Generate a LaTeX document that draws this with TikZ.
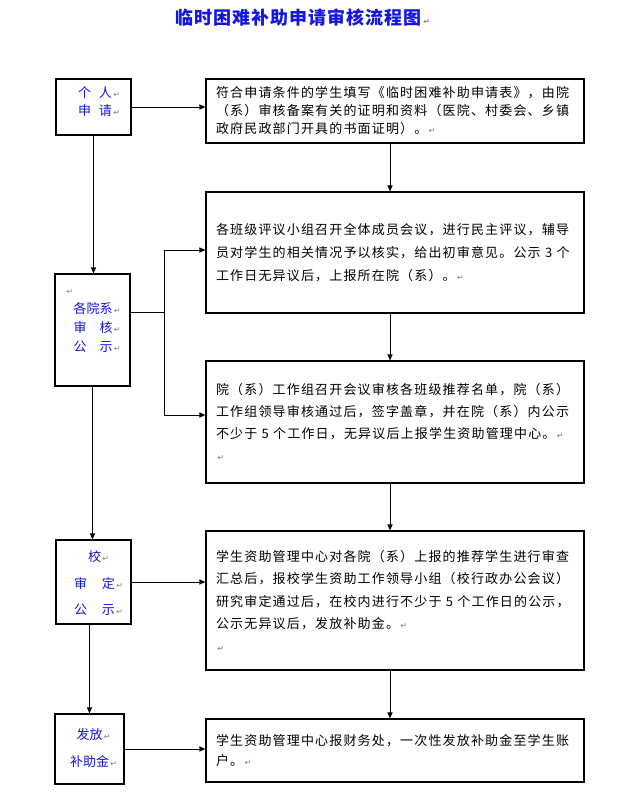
\documentclass[tikz,border=0pt]{standalone}
\usepackage{fontspec}
\usetikzlibrary{arrows.meta}
\newfontfamily\cjk{Noto Sans CJK SC}
\newfontfamily\cjkls[LetterSpace=6]{Noto Sans CJK SC}
\newfontfamily\cjkbody[LetterSpace=9]{Noto Sans CJK SC}
\newfontfamily\symfont{DejaVu Sans}
\definecolor{tblue}{RGB}{20,20,230}
\newcommand\ret{{\symfont\fontsize{8}{8}\selectfont\color{gray}\,↵}}
\begin{document}
\begin{tikzpicture}[x=1pt,y=-1pt,
 rbox/.style={draw, line width=1.1pt, minimum width=378pt, text width=358pt, inner xsep=10pt, inner ysep=0pt, align=left},
 lbox/.style={draw, line width=1.1pt, inner sep=0pt},
 ltext/.style={text=tblue, align=center, inner sep=0pt},
 conn/.style={line width=1pt},
 arr/.style={conn, -{Triangle[length=6pt,width=5pt]}}]
\fill[white] (0,0) rectangle (633,800);
\useasboundingbox (0,0) rectangle (633,800);

\node[font=\cjkls\bfseries\fontsize{18}{18}\selectfont, text=tblue, inner sep=0pt] (title) at (298.5,18) {临时困难补助申请审核流程图\rlap{\ret}};

% left column
\node[lbox, minimum width=75pt, minimum height=56pt] (l1) at (93.5,107) {};
\node[ltext, font=\cjk\fontsize{13}{18}\selectfont] (l1t) at (95,102) {个\hspace{8pt}人\rlap{\ret}\\申\hspace{8pt}请\rlap{\ret}};

\node[lbox, minimum width=75pt, minimum height=112pt] (l2) at (92.5,330) {};
\node[ltext, font=\cjk\fontsize{13}{19}\selectfont] (l2t) at (93,317.5) {\vphantom{各}\makebox[0pt]{\ret\hspace{48pt}}\\各院系\rlap{\ret}\\审\hspace{13pt}核\rlap{\ret}\\公\hspace{13pt}示\rlap{\ret}};

\node[lbox, minimum width=75pt, minimum height=84pt] (l3) at (93.5,582) {};
\node[ltext, font=\cjk\fontsize{13}{26.5}\selectfont] (l3t) at (94.5,583.5) {校\rlap{\ret}\\审\hspace{15pt}定\rlap{\ret}\\公\hspace{15pt}示\rlap{\ret}};

\node[lbox, minimum width=69pt, minimum height=70pt] (l4) at (89.5,749) {};
\node[ltext, font=\cjk\fontsize{13}{27}\selectfont] (l4t) at (89.5,748.5) {发放\rlap{\ret}\\补助金\rlap{\ret}};

% right column
\node[rbox, minimum height=64pt, font=\cjkbody\fontsize{13}{18}\selectfont] (r1) at (395,111) {符合申请条件的学生填写《临时困难补助申请表》，由院\\（系）审核备案有关的证明和资料（医院、村委会、乡镇\\政府民政部门开具的书面证明）。\ret};

\node[rbox, minimum height=121pt, font=\cjkbody\fontsize{13}{23}\selectfont] (r2) at (395,252.5) {各班级评议小组召开全体成员会议，进行民主评议，辅导\\员对学生的相关情况予以核实，给出初审意见。公示 3 个\\工作日无异议后，上报所在院（系）。\ret};

\node[rbox, minimum height=122pt, font=\cjkbody\fontsize{13}{22}\selectfont] (r3) at (395,422) {院（系）工作组召开会议审核各班级推荐名单，院（系）\\工作组领导审核通过后，签字盖章，并在院（系）内公示\\不少于 5 个工作日，无异议后上报学生资助管理中心。\ret\\\ret};

\node[rbox, minimum height=139pt, font=\cjkbody\fontsize{13}{22.5}\selectfont] (r4) at (395,600.5) {学生资助管理中心对各院（系）上报的推荐学生进行审查\\汇总后，报校学生资助工作领导小组（校行政办公会议）\\研究审定通过后，在校内进行不少于 5 个工作日的公示，\\公示无异议后，发放补助金。\ret\\\ret};

\node[rbox, minimum height=63pt, font=\cjkbody\fontsize{13}{20}\selectfont] (r5) at (395,750.5) {学生资助管理中心报财务处，一次性发放补助金至学生账\\户。\ret};

% connectors
\coordinate (c1) at ([xshift=-5pt]r1.south);
\coordinate (c2) at ([xshift=-5pt]r2.south);
\coordinate (c3) at ([xshift=-5pt]r3.south);
\coordinate (c4) at ([xshift=-5pt]r4.south);
\coordinate (j) at (164,312);
\coordinate (b1) at (164,250);
\coordinate (b2) at (164,415);

\draw[arr] (l1.east) -- (l1.east -| r1.west);
\draw[arr] (l1.south) -- (l1.south |- l2.north);
\draw[arr] (c1) -- (c1 |- r2.north);
\draw[conn] (j -| l2.east) -- (j);
\draw[conn] (b1) -- (b2);
\draw[arr] (b1) -- (b1 -| r2.west);
\draw[arr] (b2) -- (b2 -| r3.west);
\draw[arr] (c2) -- (c2 |- r3.north);
\draw[arr] (l2.south) -- (l2.south |- l3.north);
\draw[arr] (l3.east) -- (l3.east -| r4.west);
\draw[arr] (c3) -- (c3 |- r4.north);
\draw[arr] (l4.north |- l3.south) -- (l4.north);
\draw[arr] (c4) -- (c4 |- r5.north);
\draw[arr] (l4.east) -- (l4.east -| r5.west);
\end{tikzpicture}
\end{document}
